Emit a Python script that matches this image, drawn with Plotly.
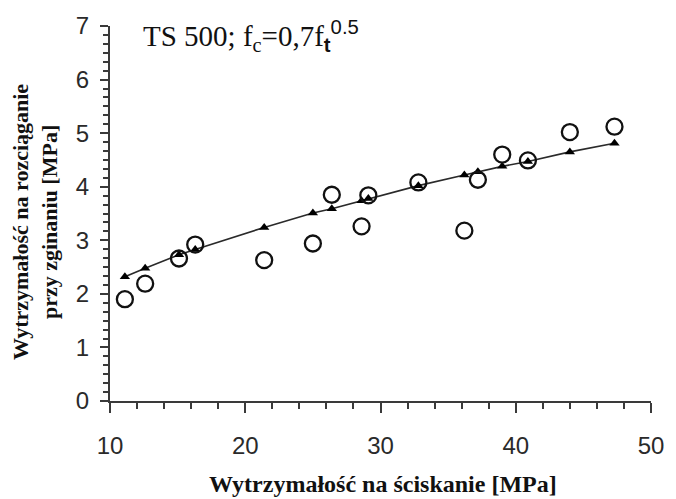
import plotly.graph_objects as go

# Compressive strength of the specimens [MPa]
fc = [11.1, 12.6, 15.1, 16.3, 21.4, 25.0, 26.4, 28.6, 29.1, 32.8, 36.2, 37.2, 39.0, 40.9, 44.0, 47.3]
# Measured flexural tensile strength [MPa]
ft_measured = [1.90, 2.19, 2.66, 2.92, 2.63, 2.94, 3.85, 3.26, 3.84, 4.08, 3.18, 4.13, 4.60, 4.49, 5.02, 5.12]
# TS 500 prediction at the same compressive strengths [MPa]
ft_ts500 = [2.32, 2.48, 2.73, 2.83, 3.24, 3.51, 3.59, 3.74, 3.78, 4.02, 4.22, 4.28, 4.38, 4.47, 4.65, 4.81]

x_range = [10, 50]
y_range = [0, 7]

W, H = 676, 499
M_L, M_R, M_T, M_B = 110, 21, 25, 98
axis_col = "#3a3a3a"
serif = "Liberation Serif"
sans = "Liberation Sans"

fig = go.Figure()

fig.add_trace(go.Scatter(
    x=fc, y=ft_ts500, mode="lines+markers",
    line=dict(color="#2a2a2a", width=1.6),
    marker=dict(symbol="triangle-up", size=9, color="black"),
    showlegend=False, hoverinfo="skip",
))

fig.add_trace(go.Scatter(
    x=fc, y=ft_measured, mode="markers",
    marker=dict(symbol="circle-open", size=16, color="#111111", line=dict(width=2.3)),
    showlegend=False, hoverinfo="skip",
))

fig.update_xaxes(
    range=x_range, tickmode="linear", tick0=10, dtick=10,
    showline=True, linecolor=axis_col, linewidth=2,
    ticks="outside", ticklen=10, tickwidth=2, tickcolor=axis_col,
    minor=dict(tickmode="linear", tick0=10, dtick=2, ticks="outside", ticklen=6,
               tickwidth=2, tickcolor=axis_col, showgrid=False),
    showgrid=False, zeroline=False,
    tickfont=dict(family=sans, size=24, color="#2a2a2a"),
    ticklabelstandoff=12,
)
fig.update_yaxes(
    range=y_range, tickmode="linear", tick0=0, dtick=1,
    showline=True, linecolor=axis_col, linewidth=2,
    ticks="outside", ticklen=8, tickwidth=2, tickcolor=axis_col,
    minor=dict(tickmode="linear", tick0=0, dtick=1 / 6, ticks="outside", ticklen=5,
               tickwidth=2, tickcolor=axis_col, showgrid=False),
    showgrid=False, zeroline=False,
    tickfont=dict(family=sans, size=24, color="#2a2a2a"),
    ticklabelstandoff=6,
)

pw = W - M_L - M_R
ph = H - M_T - M_B

def px_x(p):
    return (p - M_L) / pw

def px_y(p):
    return (H - M_B - p) / ph

annotations = [
    dict(
        text=("TS 500; f<sub>c</sub>=0,7f<sub><span style='font-family:Liberation Sans'><b>t</b></span></sub>"
              "<sup><span style='font-family:Liberation Sans'>0.5</span></sup>"),
        x=px_x(141), y=px_y(13), xref="paper", yref="paper",
        xanchor="left", yanchor="top", showarrow=False,
        font=dict(family=serif, size=29, color="#111111"),
    ),
    dict(
        text="<b>Wytrzymałość na ściskanie [MPa]</b>",
        x=px_x(385), y=px_y(484), xref="paper", yref="paper",
        xanchor="center", yanchor="middle", showarrow=False,
        font=dict(family=serif, size=24, color="#111111"),
    ),
    dict(
        text="<b>Wytrzymałość na rozciąganie<br>przy zginaniu [MPa]</b>",
        x=px_x(35), y=px_y(222), xref="paper", yref="paper",
        xanchor="center", yanchor="middle", showarrow=False, textangle=-90,
        font=dict(family=serif, size=22, color="#111111"),
    ),
]

fig.update_layout(
    width=W, height=H,
    margin=dict(l=M_L, r=M_R, t=M_T, b=M_B, pad=0),
    paper_bgcolor="white", plot_bgcolor="white",
    annotations=annotations,
)

fig.write_html("out.html")
